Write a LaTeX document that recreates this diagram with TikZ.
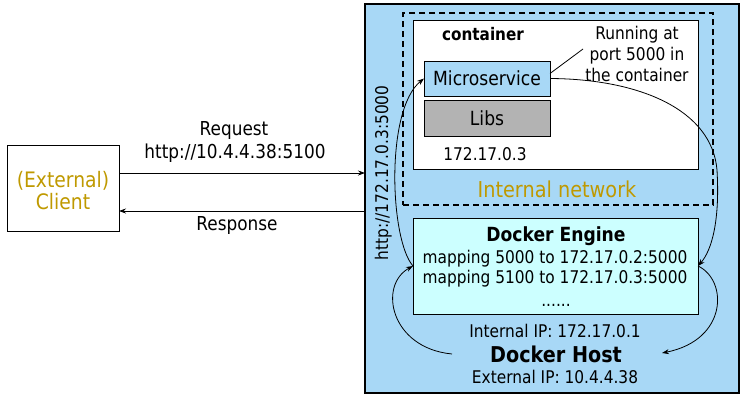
\documentclass[tikz,border=0pt]{standalone}
\usepackage{fontspec}
\setmainfont{DejaVu Sans}[FakeStretch=0.88]
\usetikzlibrary{arrows.meta}
\definecolor{hostblue}{RGB}{168,216,246}
\definecolor{engcyan}{RGB}{204,255,255}
\definecolor{libgray}{RGB}{179,179,179}
\definecolor{olivetxt}{RGB}{191,153,0}
\begin{document}
\begin{tikzpicture}[x=1pt,y=-1pt,
  box/.style={draw=black, line width=1pt, inner sep=0pt, outer sep=0pt},
  lbl/.style={inner sep=0pt, anchor=base, font=\fontsize{17.5}{21}\selectfont},
  conn/.style={line width=0.8pt, -{Stealth[length=7pt,width=5pt]}},
]
\useasboundingbox (0,0) rectangle (745,402);
% boxes
\node[box, line width=1.3pt, fill=hostblue, minimum width=374pt, minimum height=389pt] (host) at (552,198.5) {};
\node[box, line width=1.8pt, dash pattern=on 6pt off 4pt, minimum width=310pt, minimum height=192pt] (net) at (558,109) {};
\node[box, fill=white, minimum width=285pt, minimum height=149pt] (cont) at (555.5,94.5) {};
\node[box, fill=hostblue, minimum width=126pt, minimum height=35pt, font=\fontsize{19.5}{23}\selectfont] (micro) at (487,78.5) {Microservice};
\node[box, fill=libgray, minimum width=126pt, minimum height=36pt, font=\fontsize{19.5}{23}\selectfont] (libs) at (487,118) {Libs};
\node[box, fill=engcyan, minimum width=285pt, minimum height=96pt] (engine) at (555.5,266) {};
\node[box, minimum width=112pt, minimum height=86pt] (client) at (63,188) {};
% texts
\node[lbl, font=\fontsize{17.3}{21}\selectfont\bfseries] (contlbl) at (483,40) {container};
\node[lbl] (run1) at (637,39) {Running at};
\node[lbl] (run2) at (637,60) {port 5000 in};
\node[lbl] (run3) at (637,81) {the container};
\node[lbl] (contip) at (485,160) {172.17.0.3};
\node[lbl, font=\fontsize{21.9}{26}\selectfont, text=olivetxt] (netlbl) at (557,197) {Internal network};
\node[lbl, font=\fontsize{19.5}{23}\selectfont\bfseries] (englbl) at (556,241) {Docker Engine};
\node[lbl] (map1) at (555,263) {mapping 5000 to 172.17.0.2:5000};
\node[lbl] (map2) at (555,283) {mapping 5100 to 172.17.0.3:5000};
\node[lbl] (dots) at (556,306) {......};
\node[lbl] (intip) at (555,337) {Internal IP: 172.17.0.1};
\node[lbl, font=\fontsize{21.8}{26}\selectfont\bfseries] (hostlbl) at (556,362) {Docker Host};
\node[lbl] (extip) at (555,383) {External IP: 10.4.4.38};
\node[lbl, rotate=90] (url) at (388,173) {http://172.17.0.3:5000};
\node[lbl, font=\fontsize{19.2}{23}\selectfont] (reqlbl) at (234,135) {Request};
\node[lbl, font=\fontsize{19.2}{23}\selectfont] (requrl) at (235,158) {http://10.4.4.38:5100};
\node[lbl, font=\fontsize{19.2}{23}\selectfont] (resplbl) at (237,230) {Response};
\node[lbl, font=\fontsize{21.3}{25}\selectfont, text=olivetxt] (cl1) at (63,187) {(External)};
\node[lbl, font=\fontsize{21.3}{25}\selectfont, text=olivetxt] (cl2) at (63,209) {Client};
% coordinates
\coordinate (reqy) at (0,173);
\coordinate (respy) at (0,211);
\coordinate (ptr) at (583,49);
\coordinate (hostL) at (452,354);
\coordinate (hostR) at (662,353);
% connectors
\draw[conn] (client.east |- reqy) -- (host.west |- reqy);
\draw[conn] (host.west |- respy) -- (client.east |- respy);
\draw[line width=0.8pt] ([yshift=5pt]micro.east) -- (ptr);
\draw[conn] (hostL) .. controls (390,348) and (378,285) .. (engine.west);
\draw[conn] (engine.west) .. controls (390,240) and (385,110) .. (micro.west);
\draw[conn] (micro.east) .. controls (640,79) and (712,110) .. (717,170) .. controls (720,220) and (712,250) .. (engine.east);
\draw[conn] (engine.east) .. controls (728,280) and (728,340) .. (hostR);
\end{tikzpicture}
\end{document}
